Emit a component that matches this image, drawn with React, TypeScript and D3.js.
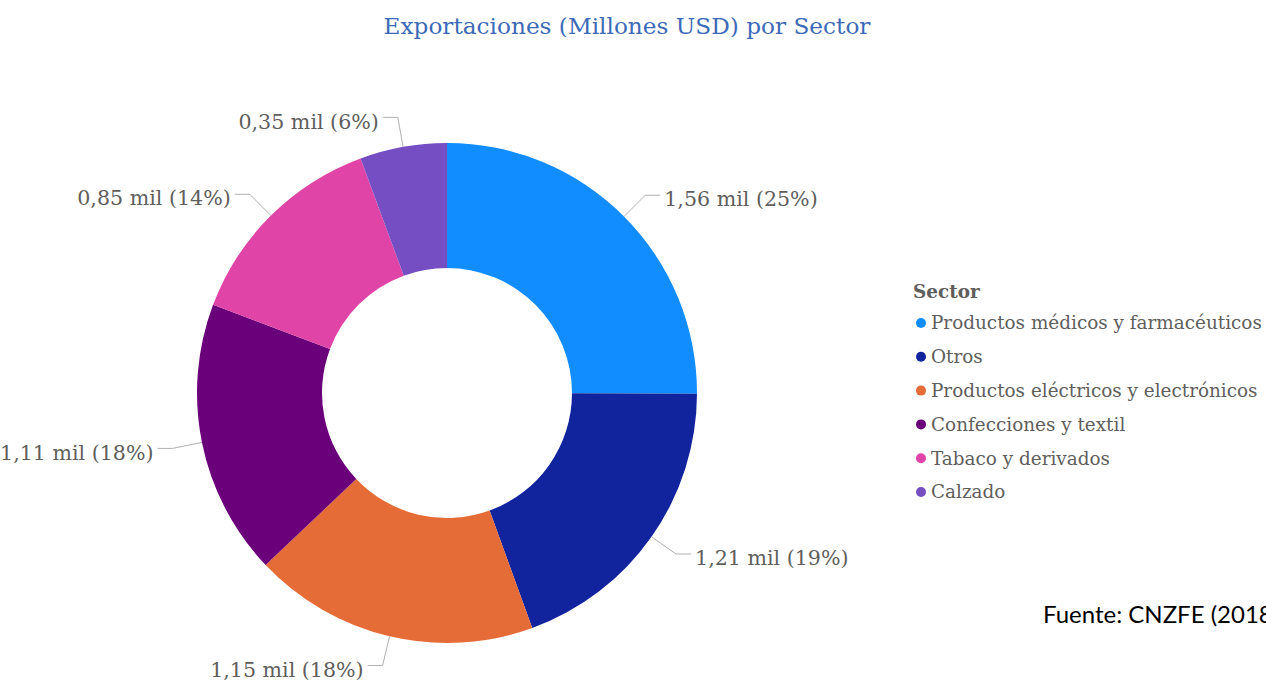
import React from "react";
import * as d3 from "d3";

const sectors = [
  "Productos médicos y farmacéuticos",
  "Otros",
  "Productos eléctricos y electrónicos",
  "Confecciones y textil",
  "Tabaco y derivados",
  "Calzado",
];
const values = [1.56, 1.21, 1.15, 1.11, 0.85, 0.35];
const colors = ["#118DFF", "#12239E", "#E66C37", "#6B007B", "#E044A7", "#744EC2"];
const titleText = "Exportaciones (Millones USD) por Sector";
const legendTitle = "Sector";
const sourceText = "Fuente: CNZFE (2018)";

const W = 1266;
const H = 686;
const cx = 447;
const cy = 393;
const R = 250;
const r0 = 125;

export default function App() {
  const total = d3.sum(values);
  const pie = d3.pie<number>().sort(null).value((d) => d);
  const arcs = pie(values);
  const arc = d3.arc<d3.PieArcDatum<number>>().innerRadius(r0).outerRadius(R);
  const fmt = (v: number) => v.toFixed(2).replace(".", ",") + " mil (" + Math.round((v / total) * 100) + "%)";
  const labelFont = "'DejaVu Serif', serif";

  return (
    <svg width={W} height={H} style={{ position: "absolute", left: 0, top: 0, background: "#fff" }}>
      <text x={627} y={26} dy="0.35em" textAnchor="middle" fontFamily={labelFont} fontSize={23.2} fill="#3C6AB7">
        {titleText}
      </text>
      <g transform={`translate(${cx},${cy})`}>
        {arcs.map((a, i) => (
          <path key={i} d={arc(a) || ""} fill={colors[i]} />
        ))}
        {arcs.map((a, i) => {
          const mid = (a.startAngle + a.endAngle) / 2;
          const p1 = [R * Math.sin(mid), -R * Math.cos(mid)];
          const p2 = [(R + 30) * Math.sin(mid), -(R + 30) * Math.cos(mid)];
          const right = Math.sin(mid) >= 0;
          const p3 = [p2[0] + (right ? 15 : -15), p2[1]];
          const tx = p3[0] + (right ? 4 : -4);
          return (
            <g key={"l" + i}>
              <polyline
                points={[p1, p2, p3].map((p) => p.join(",")).join(" ")}
                fill="none"
                stroke="#B3B0AD"
                strokeWidth={1}
              />
              <text
                x={tx}
                y={p3[1] + 4}
                dy="0.35em"
                textAnchor={right ? "start" : "end"}
                fontFamily={labelFont}
                fontSize={20.6}
                fill="#605E5C"
              >
                {fmt(values[i])}
              </text>
            </g>
          );
        })}
      </g>
      <text x={913} y={292} dy="0.35em" fontFamily={labelFont} fontWeight="bold" fontSize={18.4} fill="#605E5C">
        {legendTitle}
      </text>
      {sectors.map((s, i) => {
        const y = 323 + i * 33.8;
        return (
          <g key={"lg" + i}>
            <circle cx={921} cy={y} r={5} fill={colors[i]} />
            <text x={931} y={y} dy="0.35em" fontFamily={labelFont} fontSize={18.4} fill="#605E5C">
              {s}
            </text>
          </g>
        );
      })}
      <text x={1043} y={615} dy="0.35em" fontFamily="Lato, sans-serif" fontSize={24} fill="#000">
        {sourceText}
      </text>
    </svg>
  );
}
